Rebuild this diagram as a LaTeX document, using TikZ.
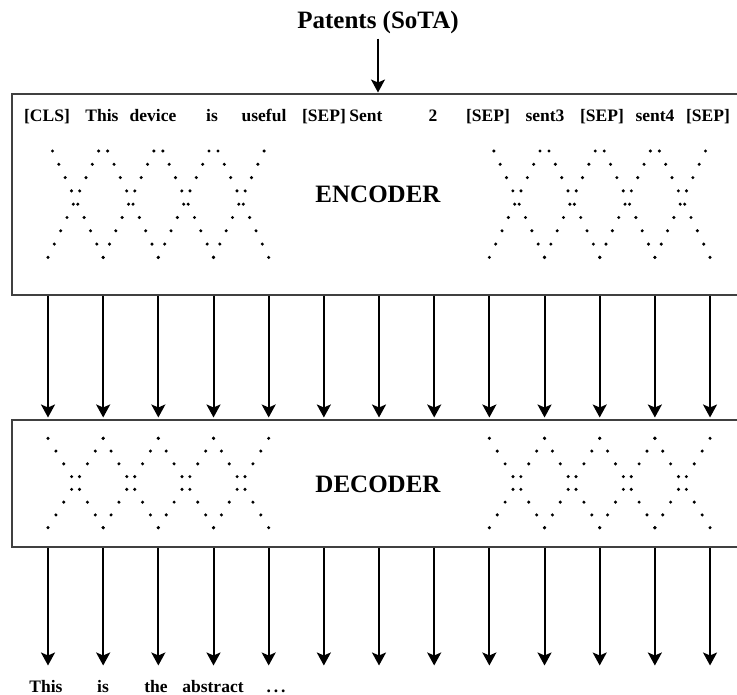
\documentclass[tikz,border=0pt]{standalone}
\usepackage{fontspec}
\setmainfont{Liberation Serif}
\usetikzlibrary{arrows.meta}
\begin{document}
\begin{tikzpicture}[x=1pt,y=-1pt,
  box/.style={draw=black!75,line width=1.8pt,inner sep=0pt,anchor=north west},
  arr/.style={line width=2pt,-{Stealth[length=13pt,width=14pt,inset=3pt]},shorten >=1.5pt},
  tok/.style={font=\fontsize{17.5}{20}\selectfont\bfseries,anchor=base,inner sep=0pt},
  big/.style={font=\fontsize{25}{28}\selectfont\bfseries,anchor=base,inner sep=0pt}]
\useasboundingbox (0,0) rectangle (737,695);
\clip (0,0) rectangle (737,695);
% boxes
\node[box,minimum width=740pt,minimum height=201pt] (enc) at (11,93) {};
\node[box,minimum width=740pt,minimum height=127pt] (dec) at (11,419) {};
% columns
\foreach \i in {0,...,12} {
  \coordinate (col\i) at ({48+55.17*\i},0);
  \coordinate (out\i) at ({48+55.17*\i},667);
}
% title
\node[big] (pat) at (378,29) {Patents (SoTA)};
\draw[arr,line width=1.3pt,shorten >=0.5pt] ([yshift=-4pt]pat.south) -- (enc.north -| pat);
% tokens
\node[tok] (t0) at (47,122) {[CLS]};
\node[tok] (t1) at (102,122) {This};
\node[tok] (t2) at (153,122) {device};
\node[tok] (t3) at (212,122) {is};
\node[tok] (t4) at (264,122) {useful};
\node[tok] (t5) at (324,122) {[SEP]};
\node[tok] (t6) at (366,122) {Sent};
\node[tok] (t7) at (433,122) {2};
\node[tok] (t8) at (488,122) {[SEP]};
\node[tok] (t9) at (545,122) {sent3};
\node[tok] (t10) at (602,122) {[SEP]};
\node[tok] (t11) at (655,122) {sent4};
\node[tok] (t12) at (708,122) {[SEP]};
% labels
\node[big] (enclabel) at (378,203) {ENCODER};
\node[big] (declabel) at (378,492) {DECODER};
% encoder dots
\foreach \g in {0,8} \foreach \p in {0,...,3} \foreach \k in {0,...,8} {
  \fill ({48+55.17*(\g+\p)+4.5+50.67*\k/8},{151+13.3*\k}) circle[radius=1.7pt];
  \fill ({48+55.17*(\g+\p+1)-4.5-50.67*\k/8},{151+13.3*\k}) circle[radius=1.7pt];
}
% decoder dots
\foreach \g in {0,8} \foreach \p in {0,...,3} \foreach \k in {0,...,7} {
  \fill ({48+55.17*(\g+\p)+55.17*\k/7},{438.3+12.77*\k}) circle[radius=1.7pt];
  \fill ({48+55.17*(\g+\p+1)-55.17*\k/7},{438.3+12.77*\k}) circle[radius=1.7pt];
}
% arrows
\foreach \i in {0,...,12} {
  \draw[arr] (enc.south -| col\i) -- (dec.north -| col\i);
  \draw[arr] (dec.south -| col\i) -- (out\i);
}
% output words
\node[tok] (o0) at (46,692) {This};
\node[tok] (o1) at (103,692) {is};
\node[tok] (o2) at (156,692) {the};
\node[tok] (o3) at (213,692) {abstract};
\node[tok] (o4) at (276,692) {.\,.\,.};
\end{tikzpicture}
\end{document}
